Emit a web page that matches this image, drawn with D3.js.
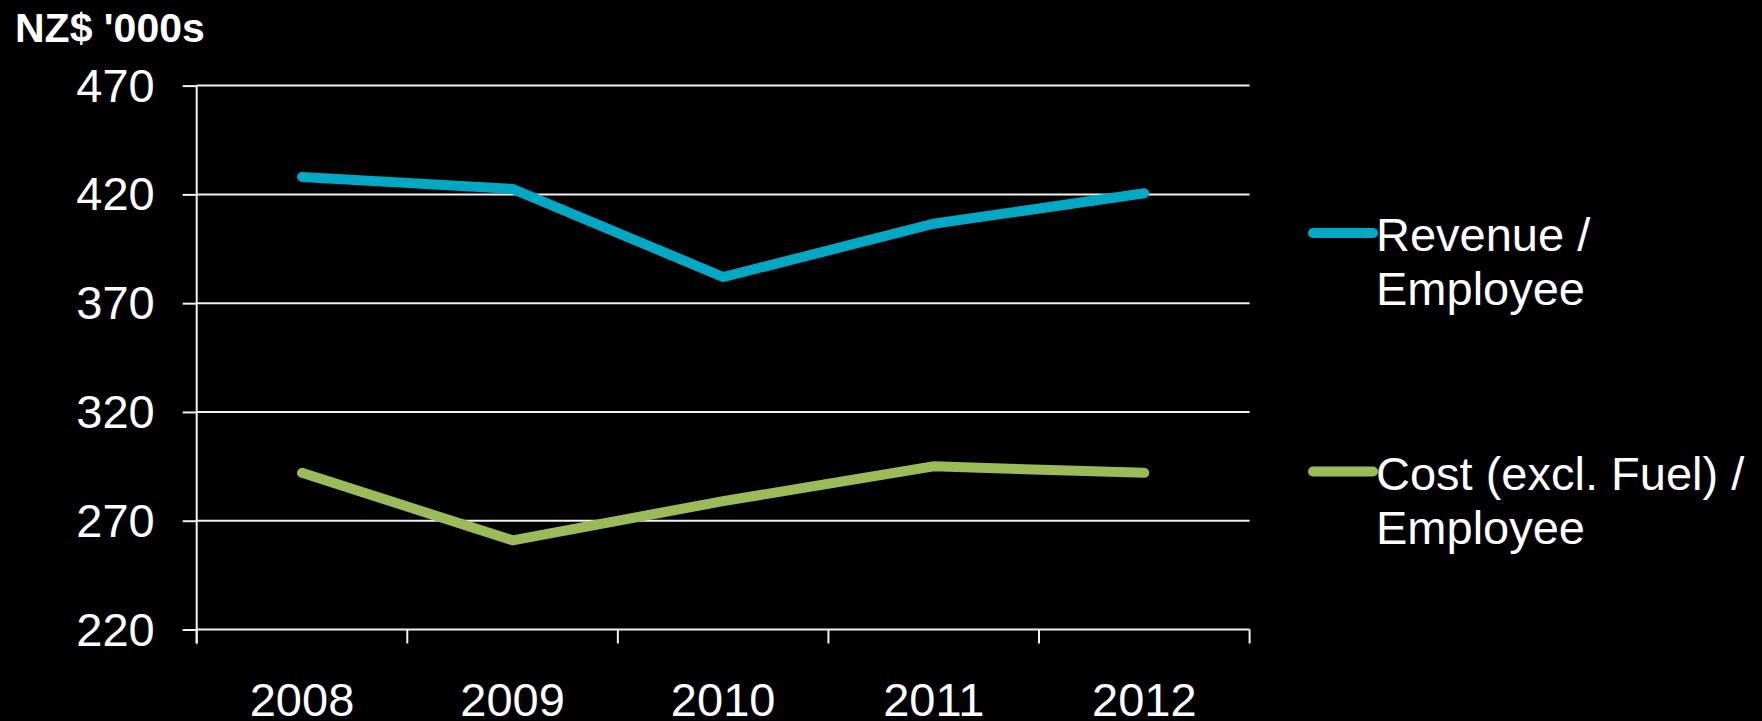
<!DOCTYPE html>
<html>
<head>
<meta charset="utf-8">
<script src="https://cdn.jsdelivr.net/npm/d3@7"></script>
<style>
  html, body { margin: 0; padding: 0; background: #000; }
  svg { display: block; }
  text { font-family: "Liberation Sans", Arial, sans-serif; fill: #fff; }
</style>
</head>
<body>
<svg id="chart" width="1762" height="721"></svg>
<script>
const years = ["2008", "2009", "2010", "2011", "2012"];
const revenuePerEmployee = [428, 422.5, 382, 406.5, 420.5];
const costPerEmployee = [292, 261, 279, 295, 292];
const yTicks = [220, 270, 320, 370, 420, 470];
const seriesNames = [["Revenue /", "Employee"], ["Cost (excl. Fuel) /", "Employee"]];
const seriesColors = ["#00A9C3", "#9BBB59"];
const unitLabel = "NZ$ '000s";

(function () {
const svg = d3.select("#chart");
const pLeft = 196.7, pRight = 1249.6, pTop = 85.6, pBottom = 629.5;

const x = d3.scaleBand().domain(years).range([pLeft, pRight]).paddingInner(0).paddingOuter(0);
const y = d3.scaleLinear().domain([220, 470]).range([pBottom, pTop]);
const xb = d3.scaleLinear().domain([0, years.length]).range([pLeft, pRight]);

// gridlines
svg.append("g").selectAll("line").data(yTicks.filter(d => d !== 220)).join("line")
  .attr("x1", pLeft).attr("x2", pRight)
  .attr("y1", d => y(d)).attr("y2", d => y(d))
  .attr("stroke", "#f2f2f2").attr("stroke-width", 2);

// y axis
const yAxis = svg.append("g").attr("transform", `translate(${pLeft},0)`)
  .call(d3.axisLeft(y).tickValues(yTicks).tickSize(14).tickPadding(28).tickFormat(d3.format("d")));
yAxis.select(".domain").attr("stroke", "#f2f2f2").attr("stroke-width", 2).attr("d", `M0,${pTop}V${pBottom + 14}`);
yAxis.selectAll(".tick line").attr("stroke", "#f2f2f2").attr("stroke-width", 2);
yAxis.selectAll(".tick text").attr("font-size", 47).attr("fill", "#fff")
  .style("font-family", '"Liberation Sans", Arial, sans-serif').attr("dy", "0.33em");

// x axis baseline
svg.append("line").attr("x1", pLeft).attr("x2", pRight).attr("y1", pBottom).attr("y2", pBottom)
  .attr("stroke", "#f2f2f2").attr("stroke-width", 2);
// boundary ticks
svg.append("g").selectAll("line").data(d3.range(years.length + 1)).join("line")
  .attr("x1", d => xb(d)).attr("x2", d => xb(d))
  .attr("y1", pBottom).attr("y2", pBottom + 14)
  .attr("stroke", "#f2f2f2").attr("stroke-width", 2);
// labels
const xAxis = svg.append("g").attr("transform", `translate(0,${pBottom})`)
  .call(d3.axisBottom(x).tickSize(0).tickPadding(0));
xAxis.select(".domain").remove();
xAxis.selectAll(".tick text").attr("font-size", 47).attr("fill", "#fff")
  .style("font-family", '"Liberation Sans", Arial, sans-serif')
  .attr("y", 86).attr("dy", "0");

// lines
const line = d3.line().x((d, i) => x(years[i]) + x.bandwidth() / 2).y(d => y(d));
[revenuePerEmployee, costPerEmployee].forEach((s, i) => {
  svg.append("path").datum(s).attr("d", line)
    .attr("fill", "none").attr("stroke", seriesColors[i]).attr("stroke-width", 10)
    .attr("stroke-linecap", "round").attr("stroke-linejoin", "miter");
});

// title
svg.append("text").attr("x", 15).attr("y", 42).attr("font-size", 41).attr("font-weight", "bold")
  .text(unitLabel);

// legend
const legendY = [233, 471.5];
seriesNames.forEach((lines, i) => {
  const g = svg.append("g");
  g.append("line").attr("x1", 1313).attr("x2", 1373).attr("y1", legendY[i]).attr("y2", legendY[i])
    .attr("stroke", seriesColors[i]).attr("stroke-width", 10).attr("stroke-linecap", "round");
  lines.forEach((t, j) => {
    g.append("text").attr("x", 1376).attr("y", legendY[i] + 18 + j * 54).attr("font-size", 47).text(t);
  });
});
})();
</script>
</body>
</html>
